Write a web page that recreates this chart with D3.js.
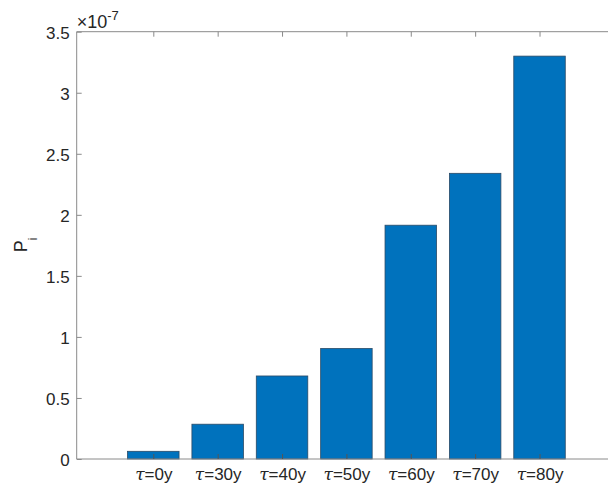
<!DOCTYPE html>
<html>
<head>
<meta charset="utf-8">
<script src="https://cdn.jsdelivr.net/npm/d3@7"></script>
<style>
  html, body { margin: 0; padding: 0; background: #fff; }
  svg { display: block; }
  text { font-family: "Liberation Sans", Arial, Helvetica, sans-serif; fill: #262626; }
</style>
</head>
<body>
<div id="chart"></div>
<script>
// Bar categories (retention horizon) and values of P_i, in units of 1e-7
const categories = ["0y", "30y", "40y", "50y", "60y", "70y", "80y"];
const values = [0.063, 0.285, 0.68, 0.905, 1.915, 2.34, 3.30];
const yTicks = [0, 0.5, 1, 1.5, 2, 2.5, 3, 3.5];
const yTickLabels = ["0", "0.5", "1", "1.5", "2", "2.5", "3", "3.5"];

const W = 608, H = 487;
const plotLeft = 76.7, plotTop = 31.7, plotBottom = 459;
const axisColor = "#8a8a8a";

const svg = d3.select("#chart").append("svg")
  .attr("width", W).attr("height", H);

// Positions 1..7 on a continuous x axis, MATLAB-style
const x = d3.scaleLinear().domain([-0.19, 1]).range([plotLeft, 153.3]);
const step = x(2) - x(1);
const y = d3.scaleLinear().domain([0, 3.5]).range([plotBottom, plotTop]);
const barW = step * 0.8;
const xs = categories.map((d, i) => i + 1);

// Bars
svg.append("g").selectAll("rect")
  .data(values)
  .join("rect")
  .attr("x", (d, i) => x(xs[i]) - barW / 2)
  .attr("width", barW)
  .attr("y", d => y(d))
  .attr("height", d => y(0) - y(d))
  .attr("fill", "#0072BD")
  .attr("stroke", "#2a4a66")
  .attr("stroke-width", 0.8);

// Box lines (left, bottom, top)
const box = svg.append("g").attr("stroke", axisColor).attr("stroke-width", 1).attr("fill", "none");
box.append("line").attr("x1", plotLeft).attr("x2", plotLeft).attr("y1", plotTop).attr("y2", plotBottom);
box.append("line").attr("x1", plotLeft).attr("x2", W + 5).attr("y1", plotBottom).attr("y2", plotBottom);
box.append("line").attr("x1", plotLeft).attr("x2", W + 5).attr("y1", plotTop).attr("y2", plotTop);

// Y axis: ticks pointing inward
const yAxis = d3.axisLeft(y)
  .tickValues(yTicks)
  .tickFormat((d, i) => yTickLabels[i])
  .tickSizeInner(-5)
  .tickSizeOuter(0)
  .tickPadding(7);
const gy = svg.append("g").attr("transform", `translate(${plotLeft},0)`).call(yAxis);
gy.select(".domain").remove();
gy.selectAll(".tick line").attr("stroke", axisColor);
gy.selectAll(".tick text").style("font-size", "17px").attr("fill", "#262626").attr("dy", "0.4em");

// X axis (bottom): ticks pointing up into the plot
const xAxis = d3.axisBottom(x)
  .tickValues(xs)
  .tickFormat(() => "")
  .tickSizeInner(-5)
  .tickSizeOuter(0);
const gx = svg.append("g").attr("transform", `translate(0,${plotBottom})`).call(xAxis);
gx.select(".domain").remove();
gx.selectAll(".tick line").attr("stroke", "#555");

// Category labels with tau
gx.selectAll(".tick").each(function(d, i) {
  const t = d3.select(this).append("text")
    .attr("y", 21)
    .attr("text-anchor", "middle")
    .style("font-size", "17px")
    .attr("fill", "#262626");
  t.append("tspan").text("\u03c4").style("font-family", "'DejaVu Serif', serif").style("font-style", "italic");
  t.append("tspan").text("=" + categories[i]);
});

// Top ticks pointing down
const xTop = d3.axisTop(x).tickValues(xs).tickFormat(() => "").tickSizeInner(-5).tickSizeOuter(0);
const gt = svg.append("g").attr("transform", `translate(0,${plotTop})`).call(xTop);
gt.select(".domain").remove();
gt.selectAll(".tick line").attr("stroke", axisColor);

// Exponent label
const ex = svg.append("text")
  .attr("x", plotLeft)
  .attr("y", plotTop - 4)
  .style("font-size", "18px")
  .attr("fill", "#262626");
ex.append("tspan").text("\u00d7").style("font-weight", "300");
ex.append("tspan").text("10");
ex.append("tspan").text("-7").attr("dy", -8).style("font-size", "13px");

// Y label P_i
const yl = svg.append("text")
  .attr("transform", `translate(27,245) rotate(-90)`)
  .attr("text-anchor", "middle")
  .style("font-size", "18px")
  .attr("fill", "#262626");
yl.append("tspan").text("P");
yl.append("tspan").text("i").attr("dy", 10).style("font-size", "12px");
</script>
</body>
</html>
